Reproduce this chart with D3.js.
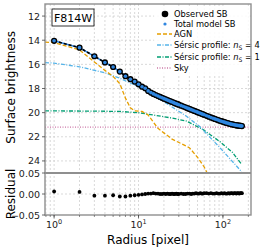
<!DOCTYPE html>
<html>
<head>
<meta charset="utf-8">
<script src="https://cdn.jsdelivr.net/npm/d3@7/dist/d3.min.js"></script>
<style>
  body { margin: 0; background: #fff; }
  svg { font-family: "DejaVu Sans", sans-serif; }
</style>
</head>
<body>
<div id="chart"></div>
<script>
// observed profile, radius in pixel
const radii = [1,2,3,4,5,6,7,8,9,10,11,12,13,14,15,16,17,18,19,20,21,22,23,24,25,26,27,28,29,30,
  32,34,36,38,40,42,44,46,48,50,52,54,56,58,60,
  64,68,72,76,80,84,88,92,96,100,104,108,112,116,120,124,128,132,136,140,144,148,152,156,160,164,168];
const observedSB = [14.05,14.62,15.33,15.84,16.22,16.6,16.98,17.23,17.43,17.65,17.85,17.98,18.2,18.34,18.45,18.54,18.62,18.70,18.77,18.84,18.90,18.96,19.02,19.07,19.12,19.17,19.22,19.26,19.30,19.34,
  19.42,19.49,19.56,19.63,19.69,19.75,19.81,19.86,19.91,19.96,20.01,20.05,20.10,20.14,20.18,
  20.26,20.33,20.40,20.46,20.52,20.57,20.62,20.67,20.71,20.75,20.79,20.83,20.86,20.89,20.92,20.95,20.97,20.99,21.01,21.03,21.05,21.06,21.07,21.08,21.09,21.10,21.11];
const residual = [0.006,0.005,-0.004,-0.004,-0.003,-0.006,-0.006,-0.004,-0.003,-0.002,-0.001,0.000,0.001,0.001,0.002,0.001,0.001,0.000,0.000,0.001,0.000,0.001,0.000,0.000,0.001,0.000,0.000,0.001,0.000,0.000,
  0.001,0.000,0.000,0.001,0.001,0.000,0.001,0.001,0.002,0.001,0.001,0.002,0.001,0.001,0.002,
  0.002,0.001,0.002,0.001,0.001,0.002,0.001,0.001,0.002,0.001,0.002,0.001,0.001,0.002,0.001,0.002,0.002,0.001,0.002,0.002,0.001,0.002,0.002,0.001,0.002,0.002,0.002];

// model components
const agnR = [0.78,1,2,3,4,5,6,7,8,9,11,13,17,25,40,50,60,66];
const agnSB = [14.15,14.2,14.8,15.8,16.5,17.0,17.6,18.8,19.6,19.85,19.9,20.2,21.3,22.2,22.9,23.7,24.5,25.1];
const ser4R = [0.78,1,2,4,6,10,15,20,37,53,92,167];
const ser4SB = [15.85,15.9,16.2,16.7,17.15,17.85,18.6,19.1,20.3,21.15,22.9,24.9];
const ser1R = [0.78,1,3,6,10,15,25,37,58,92,130,167];
const ser1SB = [19.85,19.86,19.87,19.9,20.0,20.2,20.45,20.7,21.4,22.4,23.3,24.3];
const skySB = 21.2;

const yTicks = [12,14,16,18,20,22,24];
const resTicks = [-0.05,0.00,0.05];
const xTicks = [1,10,100];

const colModel = "#2f86e0", colAgn = "#E69F00", colS4 = "#56B4E9", colS1 = "#009E73", colSky = "#CC79A7";

const W = 265, H = 250;
const svg = d3.select("#chart").append("svg").attr("width", W).attr("height", H);

const x = d3.scaleLog().domain([0.78, 215]).range([45, 251]);
const y = d3.scaleLinear().domain([11, 25]).range([4, 173]);
const yr = d3.scaleLinear().domain([-0.05, 0.05]).range([215, 173]);

// minor log ticks
const minorX = [];
[0.1,1,10,100].forEach(d => { for (let k = 1; k < 10; k++) { const v = d * k; if (v >= 0.78 && v <= 215) minorX.push(v); } });

// clip paths
const defs = svg.append("defs");
defs.append("clipPath").attr("id", "clipMain").append("rect").attr("x", 45).attr("y", 4).attr("width", 206).attr("height", 169);
defs.append("clipPath").attr("id", "clipRes").append("rect").attr("x", 45).attr("y", 173).attr("width", 206).attr("height", 42);

// grid
const grid = svg.append("g").attr("stroke", "#cfcfcf").attr("stroke-width", 0.8).attr("stroke-dasharray", "2,2");
minorX.forEach(v => {
  grid.append("line").attr("x1", x(v)).attr("x2", x(v)).attr("y1", 4).attr("y2", 215);
});
yTicks.forEach(v => grid.append("line").attr("x1", 45).attr("x2", 251).attr("y1", y(v)).attr("y2", y(v)));
grid.append("line").attr("x1", 45).attr("x2", 251).attr("y1", yr(0)).attr("y2", yr(0));

// main panel
const main = svg.append("g").attr("clip-path", "url(#clipMain)");
const lineFn = (rs, vs) => d3.line().x((d, i) => x(rs[i])).y(d => y(d))(vs);

main.append("path").attr("d", d3.line()([[45, y(skySB)], [251, y(skySB)]]))
  .attr("stroke", colSky).attr("stroke-width", 1.2).attr("stroke-dasharray", "1,1.5").attr("fill", "none");
main.append("path").attr("d", lineFn(ser1R, ser1SB)).attr("fill", "none")
  .attr("stroke", colS1).attr("stroke-width", 1.3).attr("stroke-dasharray", "4,1.5,1,1.5");
main.append("path").attr("d", lineFn(ser4R, ser4SB)).attr("fill", "none")
  .attr("stroke", colS4).attr("stroke-width", 1.3).attr("stroke-dasharray", "4,1.5,1,1.5");
main.append("path").attr("d", lineFn(agnR, agnSB)).attr("fill", "none")
  .attr("stroke", colAgn).attr("stroke-width", 1.3).attr("stroke-dasharray", "4,2");

const modelSB = observedSB.map((v, i) => v - residual[i]);
main.append("path").attr("d", lineFn(radii, modelSB)).attr("fill", "none")
  .attr("stroke", colModel).attr("stroke-width", 1.6);
main.append("path").attr("d", lineFn(radii, observedSB)).attr("fill", "none")
  .attr("stroke", "#000").attr("stroke-width", 1.6).attr("stroke-dasharray", "3,2");
main.selectAll("circle.obs").data(observedSB).enter().append("circle").attr("class", "obs")
  .attr("cx", (d, i) => x(radii[i])).attr("cy", d => y(d)).attr("r", 3.1).attr("fill", "#000");
main.selectAll("circle.mod").data(modelSB).enter().append("circle").attr("class", "mod")
  .attr("cx", (d, i) => x(radii[i])).attr("cy", d => y(d)).attr("r", 1.8).attr("fill", colModel);

// residual panel
const res = svg.append("g").attr("clip-path", "url(#clipRes)");
res.selectAll("circle").data(residual).enter().append("circle")
  .attr("cx", (d, i) => x(radii[i])).attr("cy", d => yr(d)).attr("r", 1.9).attr("fill", "#000");

// F814W label
svg.append("rect").attr("x", 52).attr("y", 9).attr("width", 42).attr("height", 17)
  .attr("fill", "#fff").attr("stroke", "#000").attr("stroke-width", 0.8);
svg.append("text").attr("x", 73).attr("y", 21.5).attr("text-anchor", "middle")
  .attr("font-size", 11).text("F814W");

// legend
const leg = svg.append("g");
leg.append("rect").attr("x", 154).attr("y", 7).attr("width", 96).attr("height", 68).attr("fill", "#fff").attr("opacity", 0.85);
const legY = [14, 24, 34, 45, 57, 68];
const ls = 157, le = 172, lt = 174;
leg.append("circle").attr("cx", 165).attr("cy", legY[0]).attr("r", 3.3).attr("fill", "#000");
leg.append("circle").attr("cx", 165).attr("cy", legY[1]).attr("r", 1.6).attr("fill", colModel);
const legLine = (yy, c, dash) => leg.append("line").attr("x1", ls).attr("x2", le).attr("y1", yy).attr("y2", yy)
  .attr("stroke", c).attr("stroke-width", 1.3).attr("stroke-dasharray", dash);
legLine(legY[2], colAgn, "4,2");
legLine(legY[3], colS4, "4,1.5,1,1.5");
legLine(legY[4], colS1, "4,1.5,1,1.5");
legLine(legY[5], colSky, "1,1.5");
const legText = (yy, s) => leg.append("text").attr("x", lt).attr("y", yy + 3).attr("font-size", 8.3).text(s);
legText(legY[0], "Observed SB");
legText(legY[1], "Total model SB");
legText(legY[2], "AGN");
[[legY[3], "4"], [legY[4], "1"]].forEach(([yy, n]) => {
  const t = legText(yy, "Sérsic profile: ");
  t.append("tspan").attr("font-style", "italic").text("n");
  t.append("tspan").attr("font-size", 6).attr("dy", 2).text("S");
  t.append("tspan").attr("dy", -2).text(" = " + n);
});
legText(legY[5], "Sky");

// frames
const spine = "#8f8f8f";
svg.append("rect").attr("x", 45).attr("y", 4).attr("width", 206).attr("height", 211)
  .attr("fill", "none").attr("stroke", spine).attr("stroke-width", 1.4);
svg.append("line").attr("x1", 45).attr("x2", 251).attr("y1", 173).attr("y2", 173)
  .attr("stroke", spine).attr("stroke-width", 2);

// y ticks main
const axisG = svg.append("g").attr("font-size", 9.5).attr("fill", "#222");
yTicks.forEach(v => {
  axisG.append("line").attr("x1", 42).attr("x2", 45).attr("y1", y(v)).attr("y2", y(v)).attr("stroke", "#444").attr("stroke-width", 0.8);
  axisG.append("text").attr("x", 40).attr("y", y(v) + 3.5).attr("text-anchor", "end").text(v);
});
resTicks.forEach(v => {
  axisG.append("line").attr("x1", 42).attr("x2", 45).attr("y1", yr(v)).attr("y2", yr(v)).attr("stroke", "#444").attr("stroke-width", 0.8);
  axisG.append("text").attr("x", 40).attr("y", yr(v) + 3.5).attr("text-anchor", "end")
    .text((v < 0 ? "\u2212" : "") + Math.abs(v).toFixed(2));
});
// x ticks
minorX.forEach(v => {
  axisG.append("line").attr("x1", x(v)).attr("x2", x(v)).attr("y1", 215).attr("y2", 217).attr("stroke", "#444").attr("stroke-width", 0.6);
});
xTicks.forEach((v, i) => {
  axisG.append("line").attr("x1", x(v)).attr("x2", x(v)).attr("y1", 215).attr("y2", 218.5).attr("stroke", "#444").attr("stroke-width", 0.8);
  const t = axisG.append("text").attr("x", x(v)).attr("y", 228).attr("text-anchor", "middle").text("10");
  t.append("tspan").attr("font-size", 6.5).attr("dy", -4).text(i);
});

// axis labels
svg.append("text").attr("transform", "translate(15," + y(17.9) + ") rotate(-90)").attr("text-anchor", "middle")
  .attr("font-size", 12).text("Surface brightness");
svg.append("text").attr("transform", "translate(15," + yr(0) + ") rotate(-90)").attr("text-anchor", "middle")
  .attr("font-size", 12).text("Residual");
svg.append("text").attr("x", 148).attr("y", 244).attr("text-anchor", "middle").attr("font-size", 12).text("Radius [pixel]");
</script>
</body>
</html>
